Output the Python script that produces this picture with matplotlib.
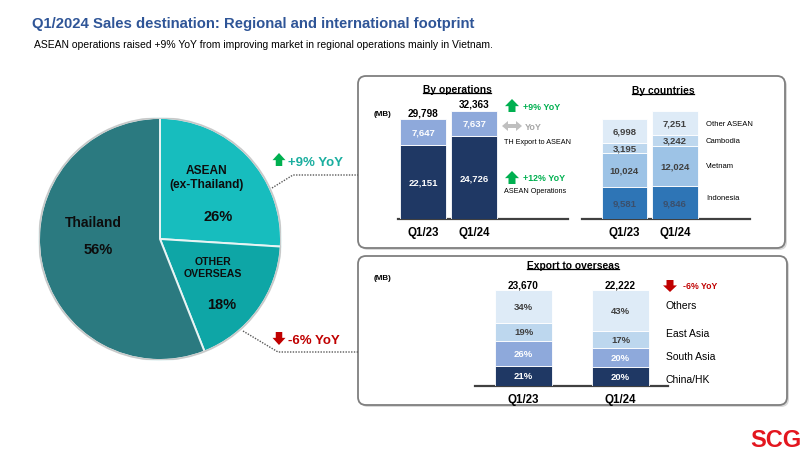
import matplotlib
matplotlib.use('Agg')
import matplotlib.pyplot as plt
from matplotlib.patches import FancyBboxPatch, FancyArrow
import numpy as np

plt.rcParams['font.family'] = ['Liberation Sans', 'DejaVu Sans']

# ---------------- data ----------------
pie_labels = ['ASEAN\n(ex-Thailand)', 'OTHER\nOVERSEAS', 'Thailand']
pie_shares = [26, 18, 56]

periods = ['Q1/23', 'Q1/24']

ops_asean = [22151, 24726]
ops_th_export = [7647, 7637]
ops_totals = [29798, 32363]
ops_names = ['ASEAN Operations', 'TH Export to ASEAN']

indonesia = [9581, 9846]
vietnam = [10024, 12024]
cambodia = [3195, 3242]
other_asean = [6998, 7251]
country_names = ['Indonesia', 'Vietnam', 'Cambodia', 'Other ASEAN']

china_hk = [21, 20]
south_asia = [26, 20]
east_asia = [19, 17]
others = [34, 43]
export_totals = [23670, 22222]
export_names = ['China/HK', 'South Asia', 'East Asia', 'Others']

# ---------------- figure ----------------
W, H = 808, 452
fig = plt.figure(figsize=(W / 100, H / 100), dpi=100)
fig.patch.set_facecolor('white')

bg = fig.add_axes([0, 0, 1, 1])
bg.set_xlim(0, W)
bg.set_ylim(H, 0)
bg.axis('off')


def px_axes(x0, y0, x1, y1):
    ax = fig.add_axes([x0 / W, 1 - y1 / H, (x1 - x0) / W, (y1 - y0) / H])
    ax.patch.set_alpha(0)
    return ax


NAVY = '#1F3864'
LBLUE = '#8EA9DB'
GREEN = '#00B050'
RED = '#C00000'
TEAL_TXT = '#1AAE9F'
DARK = '#0d0d0d'

# title
bg.text(32, 24, 'Q1/2024 Sales destination: Regional and international footprint',
        color='#2F5597', fontsize=10.7, fontweight='bold', va='center', ha='left')
bg.text(34, 45, 'ASEAN operations raised +9% YoY from improving market in regional operations mainly in Vietnam.',
        color='black', fontsize=7.5, va='center', ha='left')

# SCG logo text
bg.text(802, 441, 'SCG', color='#E3161E', fontsize=17, fontweight='bold', ha='right', va='center')

# boxes
for (x0, y0, x1, y1) in [(358, 77, 785, 249), (358, 257, 787, 406)]:
    sh = FancyBboxPatch((x0 + 2, y0 + 2), x1 - x0, y1 - y0,
                        boxstyle='round,pad=0,rounding_size=8',
                        fc='#d9d9d9', ec='none', zorder=1)
    bg.add_patch(sh)
    bx = FancyBboxPatch((x0, y0), x1 - x0, y1 - y0,
                        boxstyle='round,pad=0,rounding_size=8',
                        fc='white', ec='#7f7f7f', lw=1.3, zorder=2)
    bg.add_patch(bx)


def up_arrow(x, ytop, w, h, color):
    bg.add_patch(FancyArrow(x, ytop + h, 0, -h, width=w * 0.5, head_width=w,
                            head_length=h * 0.55, length_includes_head=True,
                            color=color, lw=0, zorder=5))


def down_arrow(x, ytop, w, h, color):
    bg.add_patch(FancyArrow(x, ytop, 0, h, width=w * 0.5, head_width=w,
                            head_length=h * 0.55, length_includes_head=True,
                            color=color, lw=0, zorder=5))


# ---------------- pie ----------------
pax = px_axes(39, 119, 281, 361)
pie_colors = ['#17BDBE', '#0EA6A6', '#2B7A80']
pax.pie(pie_shares, colors=pie_colors, startangle=90, counterclock=False,
        radius=1, wedgeprops=dict(edgecolor='#e8f4f4', linewidth=1.4))
pax.add_patch(plt.Circle((0, 0), 1.0, fc='none', ec='#c8c8c8', lw=1.2))
pax.set_xlim(-1.0, 1.0)
pax.set_ylim(-1.0, 1.0)

T = bg.transData
pax.text(93, 223, 'Thailand', fontsize=10, fontweight='bold', ha='center', va='center', color=DARK, transform=T)
pax.text(98, 250, '56%', fontsize=10.5, fontweight='bold', ha='center', va='center', color=DARK, transform=T)
pax.text(207, 178, pie_labels[0], fontsize=8.6, fontweight='bold', ha='center', va='center',
         color=DARK, linespacing=1.25, transform=T)
pax.text(218, 217, '26%', fontsize=10.5, fontweight='bold', ha='center', va='center', color=DARK, transform=T)
pax.text(213, 268, pie_labels[1], fontsize=7.6, fontweight='bold', ha='center', va='center',
         color=DARK, linespacing=1.15, transform=T)
pax.text(222, 305, '18%', fontsize=10.5, fontweight='bold', ha='center', va='center', color=DARK, transform=T)

# pie YoY annotations
up_arrow(279, 154, 13, 13, GREEN)
bg.text(288, 163, '+9% YoY', color=TEAL_TXT, fontsize=9.5, fontweight='bold', ha='left', va='center')
down_arrow(279, 333, 13, 13, RED)
bg.text(288, 341, '-6% YoY', color=RED, fontsize=9.5, fontweight='bold', ha='left', va='center')
bg.plot([272, 293, 358], [189, 176, 176], ls=(0, (1, 1)), color='#595959', lw=1, zorder=3)
bg.plot([243, 278, 358], [332, 353, 353], ls=(0, (1, 1)), color='#595959', lw=1, zorder=3)

MB_PER_PX = 298.5
x = np.arange(len(periods))


def style_bar_axes(ax, xl, xr, ytop_px, ybase_px, scale, fs=8.3, pad=5):
    ax.set_xlim(xl, xr)
    ax.set_ylim(0, (ybase_px - ytop_px) * scale)
    for s in ['top', 'right', 'left']:
        ax.spines[s].set_visible(False)
    ax.spines['bottom'].set_color('#404040')
    ax.spines['bottom'].set_linewidth(1.6)
    ax.set_yticks([])
    ax.set_xticks(x)
    ax.set_xticklabels(periods, fontsize=fs, fontweight='bold')
    ax.tick_params(axis='x', length=0, pad=pad)


def underlined_title(xc, yc, text, fs=7.4):
    t = bg.text(xc, yc, text, fontsize=fs, fontweight='bold', ha='center', va='center', zorder=6)
    return t


titles = []

# ---------------- By operations ----------------
oax = px_axes(398, 95, 568, 220)
style_bar_axes(oax, -0.49, 2.84, 95, 220, MB_PER_PX)
oax.bar(x, ops_asean, width=0.9, color=NAVY, edgecolor='white', linewidth=0.6, zorder=3)
oax.bar(x, ops_th_export, bottom=ops_asean, width=0.9, color=LBLUE, edgecolor='white', linewidth=0.6, zorder=3)
for i in range(len(periods)):
    oax.text(i, ops_asean[i] / 2, f'{ops_asean[i]:,}', ha='center', va='center', color='white',
             fontsize=6.8, fontweight='bold', zorder=4)
    oax.text(i, ops_asean[i] + ops_th_export[i] / 2, f'{ops_th_export[i]:,}', ha='center', va='center',
             color='white', fontsize=6.8, fontweight='bold', zorder=4)
    oax.annotate(f'{ops_totals[i]:,}', (i, ops_totals[i]), xytext=(0, 1.5), textcoords='offset points',
                 ha='center', va='bottom', fontsize=7.2, fontweight='bold', color='black')
titles.append(underlined_title(457, 90, 'By operations'))
bg.text(382, 115, '(MB)', fontsize=5.8, fontweight='bold', ha='center', va='center')

up_arrow(512, 100, 14, 13, GREEN)
bg.text(523, 107, '+9% YoY', color=GREEN, fontsize=6.4, fontweight='bold', ha='left', va='center')
bg.add_patch(FancyArrow(512, 127, -10, 0, width=4, head_width=10, head_length=6,
                        length_includes_head=True, color='#BFBFBF', lw=0, zorder=5))
bg.add_patch(FancyArrow(512, 127, 10, 0, width=4, head_width=10, head_length=6,
                        length_includes_head=True, color='#BFBFBF', lw=0, zorder=5))
bg.text(525, 127, 'YoY', color='#A6A6A6', fontsize=6.4, fontweight='bold', ha='left', va='center')
bg.text(504, 143, ops_names[1], fontsize=5.2, ha='left', va='center', color='black')
up_arrow(512, 172, 14, 13, GREEN)
bg.text(523, 179, '+12% YoY', color=GREEN, fontsize=6.4, fontweight='bold', ha='left', va='center')
bg.text(504, 192, ops_names[0], fontsize=5.2, ha='left', va='center', color='black')

# ---------------- By countries ----------------
cax = px_axes(582, 95, 750, 220)
style_bar_axes(cax, -0.84, 2.49, 95, 220, MB_PER_PX)
c_series = [indonesia, vietnam, cambodia, other_asean]
c_colors = ['#2E75B6', '#9DC3E6', '#BDD7EE', '#DEEBF7']
c_txt = ['#3B4F6B', '#404040', '#404040', '#404040']
bottom = np.zeros(len(periods))
for vals, col, tc in zip(c_series, c_colors, c_txt):
    vals = np.array(vals)
    cax.bar(x, vals, bottom=bottom, width=0.9, color=col, edgecolor='white', linewidth=0.6, zorder=3)
    for i in range(len(periods)):
        cax.text(i, bottom[i] + vals[i] / 2, f'{vals[i]:,}', ha='center', va='center', color=tc,
                 fontsize=6.8, fontweight='bold', zorder=4)
    bottom = bottom + vals
titles.append(underlined_title(663, 91, 'By countries'))
for name, yy in zip(country_names, [199, 167, 142, 125]):
    bg.text(706, yy, name, fontsize=5.5, ha='left', va='center', color='black')

# ---------------- Export to overseas ----------------
eax = px_axes(475, 280, 668, 387)
style_bar_axes(eax, -0.5, 1.49, 280, 387, 100 / 96)
e_series = [china_hk, south_asia, east_asia, others]
e_colors = [NAVY, LBLUE, '#BDD7EE', '#DEEBF7']
e_txt = ['white', 'white', '#404040', '#404040']
bottom = np.zeros(len(periods))
for vals, col, tc in zip(e_series, e_colors, e_txt):
    vals = np.array(vals)
    eax.bar(x, vals, bottom=bottom, width=0.59, color=col, edgecolor='white', linewidth=0.6, zorder=3)
    for i in range(len(periods)):
        eax.text(i, bottom[i] + vals[i] / 2, f'{vals[i]}%', ha='center', va='center', color=tc,
                 fontsize=6.8, fontweight='bold', zorder=4)
    bottom = bottom + vals
for i in range(len(periods)):
    eax.annotate(f'{export_totals[i]:,}', (i, bottom[i]), xytext=(0, 0.5), textcoords='offset points',
                 ha='center', va='bottom', fontsize=7.2, fontweight='bold', color='black')
titles.append(underlined_title(573, 266, 'Export to overseas'))
bg.text(383, 279, '(MB)', fontsize=5.8, fontweight='bold', ha='center', va='center')
down_arrow(670, 281, 14, 12, RED)
bg.text(683, 287, '-6% YoY', color=RED, fontsize=6.3, fontweight='bold', ha='left', va='center')
for name, yy in zip(export_names, [380, 357, 334, 306]):
    bg.text(666, yy, name, fontsize=7.5, ha='left', va='center', color='black')

# underline titles
fig.canvas.draw()
r = fig.canvas.get_renderer()
inv = bg.transData.inverted()
for t in titles:
    bb = t.get_window_extent(renderer=r)
    (xa, ya) = inv.transform((bb.x0, bb.y0))
    (xb, yb) = inv.transform((bb.x1, bb.y0))
    bg.plot([xa, xb], [ya - 1, ya - 1], color='black', lw=0.9, zorder=6)

fig.savefig('out.png', dpi=100, facecolor='white')
